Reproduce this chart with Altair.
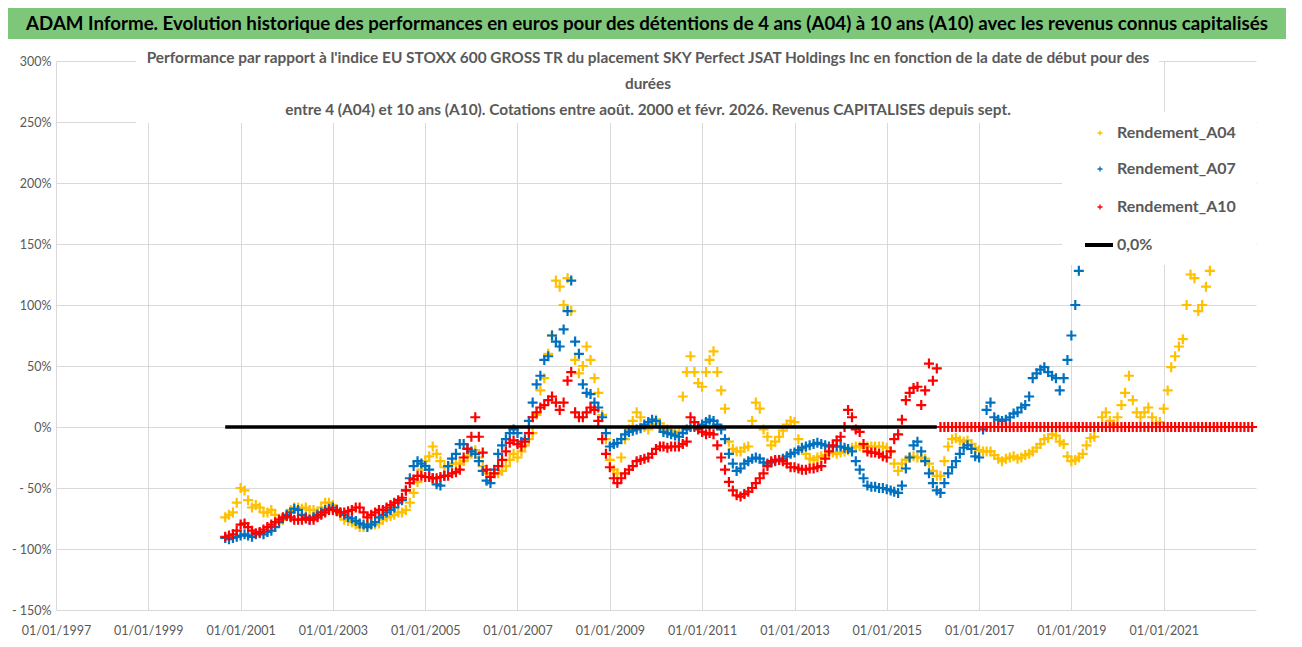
import altair as alt
import pandas as pd

BANNER = ("ADAM Informe. Evolution historique des performances en euros pour des détentions "
          "de 4 ans (A04) à 10 ans (A10) avec les revenus connus capitalisés")
TITLE_1 = ("Performance par rapport à l'indice EU STOXX 600 GROSS TR  du placement SKY Perfect "
           "JSAT Holdings Inc en fonction de la date de début pour des")
TITLE_2 = "durées"
TITLE_3 = ("entre 4 (A04) et 10 ans (A10). Cotations entre août. 2000 et févr. 2026. "
           "Revenus CAPITALISES depuis sept.")

SERIES = ["Rendement_A04", "Rendement_A07", "Rendement_A10"]
COLORS = ["#FFC000", "#0070C0", "#FF0000"]
ZERO_LABEL = "0,0%"

Y_TICKS = [-150, -100, -50, 0, 50, 100, 150, 200, 250, 300]
X_TICK_YEARS = [1997, 1999, 2001, 2003, 2005, 2007, 2009, 2011, 2013, 2015, 2017, 2019, 2021]

# monthly values (%), first value = September 2000
a04 = [
    -74, -72, -70, -62,                                                  # 2000
    -50, -52, -60, -66, -64, -66, -70, -70, -68, -72, -76, -76,          # 2001
    -72, -68, -66, -66, -67, -66, -68, -68, -70, -66, -62, -62,          # 2002
    -64, -68, -72, -76, -77, -78, -80, -82, -82, -80, -79, -80,          # 2003
    -79, -76, -74, -73, -72, -70, -70, -68, -62, -54, -45, -35,          # 2004
    -28, -24, -16, -22, -28, -33, -32, -30, -30, -30, -28, -24,          # 2005
    -22, -19, -25, -32, -38, -40, -38, -38, -36, -32, -27, -22,          # 2006
    -25, -20, -15, -10, -5, 10, 30, 40, 60, 75, 120, 115,                # 2007
    100, 122, 95, 55, 44, 50, 66, 55, 40, 28, 10, -10,                   # 2008
    -27, -35, -38, -25, -10, -2, 5, 12, 8, 0, -2, 2,                     # 2009
    6, 3, -2, -2, -3, -5, -4, 25, 45, 58, 45, 36,                        # 2010
    33, 45, 55, 62, 45, 30, 15, -12, -18, -20, -20, -17,                 # 2011
    -16, 5, 20, 15, -2, -8, -15, -12, -8, -3, 2, 5,                      # 2012
    4, -10, -18, -22, -26, -27, -25, -24, -23, -21, -21, -22,            # 2013
    -21, -20, -19, -17, -16, -16, -17, -16, -16, -16, -16, -16,          # 2014
    -17, -20, -30, -36, -30, -27, -25, -24, -25, -25, -26, -30,          # 2015
    -36, -40, -40, -28, -16, -10, -9, -11, -12, -11, -14, -17,           # 2016
    -19, -20, -20, -20, -23, -26, -28, -26, -25, -24, -26, -25,          # 2017
    -23, -22, -20, -17, -14, -10, -9, -6, -7, -12, -14, -24,             # 2018
    -28, -27, -25, -22, -15, -9, -8, 0, 8, 12, 5, 2,                     # 2019
    8, 18, 28, 42, 22, 12, 8, 12, 16, 8, 3, 4,                           # 2020
    15, 30, 49, 58, 66, 72, 100, 125, 122, 95, 100, 115,                 # 2021
    128,                                                                 # 2022
]

a07 = [
    -91, -92, -91, -90,                                                  # 2000
    -89, -88, -89, -90, -88, -87, -88, -86, -85, -82, -78, -75,          # 2001
    -72, -70, -67, -68, -72, -74, -76, -74, -72, -70, -68, -67,          # 2002
    -66, -68, -70, -72, -74, -75, -77, -79, -80, -82, -80, -78,          # 2003
    -74, -72, -70, -68, -66, -62, -60, -52, -42, -32, -28, -30,          # 2004
    -32, -35, -42, -47, -48, -40, -32, -26, -22, -14, -14, -18,          # 2005
    -20, -22, -28, -36, -44, -46, -35, -22, -15, -10, -5, -2,            # 2006
    -5, -12, -10, 5, 20, 35, 42, 55, 58, 75, 70, 66,                     # 2007
    80, 95, 120, 70, 60, 35, 28, 27, 20, 16, 8, -5,                      # 2008
    -16, -14, -13, -10, -6, -4, -3, -2, -1, 2, 4, 6,                     # 2009
    5, 0, -4, -5, -6, -7, -8, -5, -2, 0, 0, 0,                           # 2010
    2, 4, 6, 5, 2, -2, -10, -22, -30, -36, -34, -30,                     # 2011
    -28, -26, -25, -26, -29, -30, -29, -28, -27, -26, -24, -22,          # 2012
    -21, -19, -17, -16, -15, -14, -13, -14, -15, -16, -16, -16,          # 2013
    -16, -17, -18, -20, -28, -35, -42, -48, -49, -49, -50, -50,          # 2014
    -51, -52, -53, -54, -48, -34, -25, -15, -12, -20, -28, -38,          # 2015
    -46, -52, -54, -46, -38, -33, -28, -22, -17, -15, -18, -24,          # 2016
    -25, -2, 14, 20, 8, 6, 5, 6, 8, 11, 12, 16,                          # 2017
    18, 25, 40, 44, 47, 49, 45, 42, 40, 30, 40, 55,                      # 2018
    75, 100, 128,                                                        # 2019
]

a10 = [
    -90, -89, -88, -85,                                                  # 2000
    -80, -79, -82, -85, -87, -86, -84, -82, -80, -78, -76, -74,          # 2001
    -73, -74, -76, -76, -76, -75, -76, -76, -74, -72, -70, -68,          # 2002
    -68, -69, -70, -70, -69, -68, -66, -66, -70, -74, -72, -70,          # 2003
    -68, -68, -66, -64, -62, -60, -58, -52, -46, -43, -40, -40,          # 2004
    -41, -41, -42, -42, -41, -40, -40, -38, -37, -35, -25, -18,          # 2005
    -8, 8, -8, -21, -35, -41, -38, -32, -27, -20, -13, -11,              # 2006
    -14, -16, -12, -5, 8, 12, 16, 18, 22, 25, 20, 14,                    # 2007
    20, 38, 45, 12, 8, 8, 12, 16, 14, 5, -10, -22,                       # 2008
    -33, -42, -46, -42, -38, -35, -32, -28, -27, -26, -25, -22,          # 2009
    -18, -16, -16, -17, -16, -16, -16, -14, -12, 8, 4, -2,               # 2010
    -4, -6, -5, -6, -15, -25, -35, -45, -52, -56, -57, -55,              # 2011
    -53, -50, -46, -42, -38, -32, -28, -27, -27, -28, -30, -33,          # 2012
    -33, -34, -35, -35, -34, -34, -33, -32, -26, -20, -15, -11,          # 2013
    -8, 0, 14, 8, -2, -4, -14, -20, -21, -21, -22, -24,                  # 2014
    -25, -20, -10, -6, 6, 22, 28, 32, 33, 18, 30, 52,                    # 2015
    38, 48,                                                              # 2016 Jan-Feb
    0, 0, 0, 0, 0, 0, 0, 0, 0, 0,                                        # 2016 Mar-Dec
    0, 0, 0, 0, 0, 0, 0, 0, 0, 0, 0, 0,                                  # 2017
    0, 0, 0, 0, 0, 0, 0, 0, 0, 0, 0, 0,                                  # 2018
    0, 0, 0, 0, 0, 0, 0, 0, 0, 0, 0, 0,                                  # 2019
    0, 0, 0, 0, 0, 0, 0, 0, 0, 0, 0, 0,                                  # 2020
    0, 0, 0, 0, 0, 0, 0, 0, 0, 0, 0, 0,                                  # 2021
    0, 0, 0, 0, 0, 0, 0, 0, 0, 0, 0, 0,                                  # 2022
]

zero_line_dates = ["2000-09-01", "2016-02-01"]
zero_line_values = [0, 0]


def month_dates(n, year=2000, month=9):
    out = []
    for _ in range(n):
        out.append(f"{year:04d}-{month:02d}-01")
        month += 1
        if month > 12:
            month = 1
            year += 1
    return out


rows = []
for name, vals in zip(SERIES, [a04, a07, a10]):
    for d, v in zip(month_dates(len(vals)), vals):
        rows.append({"date": d, "value": v, "series": name})
df = pd.DataFrame(rows)
zero_df = pd.DataFrame({"date": zero_line_dates, "value": zero_line_values})

FONT = "Lato"
GREY = "#595959"
PLUS = "M-1,0L1,0M0,-1L0,1"


def dt(y):
    return alt.DateTime(year=y, month=1, date=1, utc=True)


x_enc = alt.X(
    "date:T",
    scale=alt.Scale(type="utc", domain=[dt(1997), dt(2023)]),
    axis=alt.Axis(
        values=[dt(y) for y in X_TICK_YEARS],
        labelExpr="utcFormat(datum.value, '%d/%m/%Y')",
        title=None, grid=True, gridColor="#D9D9D9", domain=False, ticks=False,
        labelFont=FONT, labelFontSize=12.5, labelColor=GREY, labelPadding=14,
        labelOverlap=False, labelFlush=False,
    ),
)
y_enc = alt.Y(
    "value:Q",
    scale=alt.Scale(domain=[-150, 300], nice=False, zero=False),
    axis=alt.Axis(
        values=Y_TICKS,
        labelExpr="(datum.value < 0 ? '- ' + abs(datum.value) : datum.value) + '%'",
        title=None, grid=True, gridColor="#D9D9D9", domain=False, ticks=False,
        labelFont=FONT, labelFontSize=12.5, labelColor=GREY, labelPadding=5,
    ),
)

one = pd.DataFrame({"k": [0]})


def box(x1, x2, y1, y2, color):
    return alt.Chart(one).mark_rect(color=color).encode(
        x=alt.value(x1), x2=alt.value(x2), y=alt.value(y1), y2=alt.value(y2)
    )


def label(text, x, y, size, weight, color, align="center"):
    return alt.Chart(pd.DataFrame({"t": [text]})).mark_text(
        font=FONT, fontSize=size, fontWeight=weight, color=color,
        align=align, baseline="middle",
    ).encode(x=alt.value(x), y=alt.value(y), text="t:N")


banner_bg = box(-48, 1230, -53, -22, "#7EC77A")
title_bg = box(80, 1103, -16, 62, "white")
legend_bg = box(1006, 1200, 51, 204, "white")

points = alt.Chart(df).mark_point(
    shape=PLUS, filled=False, size=100, strokeWidth=2.2, opacity=1
).encode(
    x=x_enc, y=y_enc,
    color=alt.Color("series:N", scale=alt.Scale(domain=SERIES, range=COLORS), legend=None),
)

zero_line = alt.Chart(zero_df).mark_line(color="black", strokeWidth=3.5).encode(
    x="date:T", y="value:Q"
)

layers = [banner_bg, title_bg, legend_bg, points, zero_line,
          label(BANNER, 591, -37, 18.7, "bold", "black"),
          label(TITLE_1, 592, -3, 15.4, "bold", GREY),
          label(TITLE_2, 592, 23, 15.4, "bold", GREY),
          label(TITLE_3, 592, 49, 15.4, "bold", GREY)]

legend_y = [72, 108, 146]
for name, col, ly in zip(SERIES, COLORS, legend_y):
    layers.append(
        alt.Chart(pd.DataFrame({"t": [name]})).mark_point(
            shape=PLUS, filled=False, size=25, strokeWidth=1.3, opacity=1, color=col
        ).encode(x=alt.value(1044), y=alt.value(ly))
    )
    layers.append(label(name, 1061, ly, 16, "bold", GREY, align="left"))

layers.append(
    alt.Chart(one).mark_rule(color="black", strokeWidth=4).encode(
        x=alt.value(1029), x2=alt.value(1057), y=alt.value(184)
    )
)
layers.append(label(ZERO_LABEL, 1061, 184, 16, "bold", GREY, align="left"))

chart = alt.layer(*layers).properties(
    width=1200, height=549,
    autosize=alt.AutoSizeParams(type="none"),
    padding={"left": 48, "top": 53, "right": 30, "bottom": 29},
    background="white",
).configure_view(stroke=None)

chart.save("out.html", embed_options={"renderer": "svg", "actions": False})
